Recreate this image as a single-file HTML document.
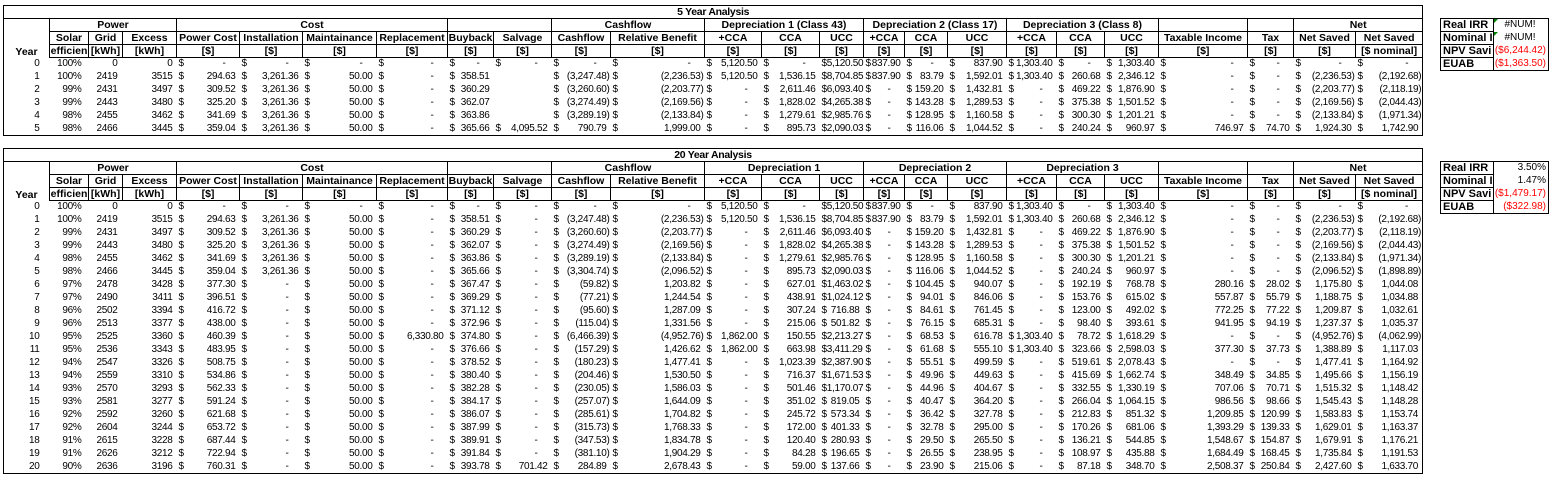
<!DOCTYPE html>
<html><head><meta charset="utf-8">
<style>
html,body{margin:0;padding:0;background:#fff;width:1554px;height:477px;overflow:hidden;position:relative}
table.t{position:absolute;left:3px;border-collapse:collapse;table-layout:fixed;width:1419px;font-family:"Liberation Sans",Arial,sans-serif;border:1px solid #000}
table.t tr{height:13px}
table.t td{padding:0;line-height:12px;white-space:nowrap;overflow:hidden;font-size:10px;letter-spacing:-0.3px;text-align:right}
table.t tr.h td{font-weight:bold;font-size:10.5px;letter-spacing:0;text-align:center;border:1px solid #000}
table.t tr.ti td{font-weight:bold;font-size:10.5px;text-align:center;border:1px solid #000}
table.t td.yr{border-top:none!important;border-bottom:none!important}
table.t tr.h3 td{border-bottom:1px solid #000}
.d{float:left;padding-left:2px}
.p{padding-right:4px}.n{padding-right:1px}.z{padding-right:14px}
table.b{position:absolute;left:1440px;border-collapse:collapse;table-layout:fixed;width:108px;font-family:"Liberation Sans",Arial,sans-serif;border:1px solid #000}
table.b tr{height:13px}
table.b td{padding:0;line-height:12px;font-size:10px;white-space:nowrap;overflow:hidden}
table.b td.l{font-weight:bold;font-size:11px;border:1px solid #000;padding-left:2px}
table.b td.v{text-align:right;padding-right:2px;position:relative}
.red{color:#f00}
.tri{position:absolute;left:0;top:0;width:0;height:0;border-top:4px solid #008000;border-right:4px solid transparent}
</style></head><body>
<table class="t" id="t5" style="top:5px"></table>
<table class="t" id="t20" style="top:148px"></table>

<table class="b" style="top:18px">
<colgroup><col style="width:53px"><col style="width:55px"></colgroup>
<tr><td class="l">Real IRR</td><td class="v" style="text-align:center"><span class="tri"></span>#NUM!</td></tr>
<tr><td class="l">Nominal I</td><td class="v" style="text-align:center"><span class="tri"></span>#NUM!</td></tr>
<tr><td class="l">NPV Savi</td><td class="v red">($6,244.42)</td></tr>
<tr><td class="l">EUAB</td><td class="v red">($1,363.50)</td></tr>
</table>
<table class="b" style="top:161px">
<colgroup><col style="width:53px"><col style="width:55px"></colgroup>
<tr><td class="l">Real IRR</td><td class="v">3.50%</td></tr>
<tr><td class="l">Nominal I</td><td class="v">1.47%</td></tr>
<tr><td class="l">NPV Savi</td><td class="v red">($1,479.17)</td></tr>
<tr><td class="l">EUAB</td><td class="v red">($322.98)</td></tr>
</table>

<script>
var colWidths=[46,39,34,54,63,63,74,71,46,58,59,94,57,58,44,41,43,59,50,48,54,89,46,62,67];
var colNames=["Solar","Grid","Excess","Power Cost","Installation","Maintainance","Replacement","Buyback","Salvage","Cashflow","Relative Benefit","+CCA","CCA","UCC","+CCA","CCA","UCC","+CCA","CCA","UCC","Taxable Income","Tax","Net Saved","Net Saved"];
var colUnits=["efficien","[kWh]","[kWh]","[$]","[$]","[$]","[$]","[$]","[$]","[$]","[$]","[$]","[$]","[$]","[$]","[$]","[$]","[$]","[$]","[$]","[$]","[$]","[$]","[$ nominal]"];
var groups5=[["Power",3],["Cost",4],["",2],["Cashflow",2],["Depreciation 1 (Class 43)",3],["Depreciation 2 (Class 17)",3],["Depreciation 3 (Class 8)",3],["",1],["",1],["Net",2]];
var groups20=[["Power",3],["Cost",4],["",2],["Cashflow",2],["Depreciation 1",3],["Depreciation 2",3],["Depreciation 3",3],["",1],["",1],["Net",2]];
var rowsCommon=[
"0;100%;0;0;-;-;-;-;-;-;-;-;5,120.50;-;5,120.50;837.90;-;837.90;1,303.40;-;1,303.40;-;-;-;-",
"1;100%;2419;3515;294.63;3,261.36;50.00;-;358.51;;(3,247.48);(2,236.53);5,120.50;1,536.15;8,704.85;837.90;83.79;1,592.01;1,303.40;260.68;2,346.12;-;-;(2,236.53);(2,192.68)",
"2;99%;2431;3497;309.52;3,261.36;50.00;-;360.29;;(3,260.60);(2,203.77);-;2,611.46;6,093.40;-;159.20;1,432.81;-;469.22;1,876.90;-;-;(2,203.77);(2,118.19)",
"3;99%;2443;3480;325.20;3,261.36;50.00;-;362.07;;(3,274.49);(2,169.56);-;1,828.02;4,265.38;-;143.28;1,289.53;-;375.38;1,501.52;-;-;(2,169.56);(2,044.43)",
"4;98%;2455;3462;341.69;3,261.36;50.00;-;363.86;;(3,289.19);(2,133.84);-;1,279.61;2,985.76;-;128.95;1,160.58;-;300.30;1,201.21;-;-;(2,133.84);(1,971.34)"];
var row5Five="5;98%;2466;3445;359.04;3,261.36;50.00;-;365.66;4,095.52;790.79;1,999.00;-;895.73;2,090.03;-;116.06;1,044.52;-;240.24;960.97;746.97;74.70;1,924.30;1,742.90";
var rowsTwentyLate=[
"5;98%;2466;3445;359.04;3,261.36;50.00;-;365.66;-;(3,304.74);(2,096.52);-;895.73;2,090.03;-;116.06;1,044.52;-;240.24;960.97;-;-;(2,096.52);(1,898.89)",
"6;97%;2478;3428;377.30;-;50.00;-;367.47;-;(59.82);1,203.82;-;627.01;1,463.02;-;104.45;940.07;-;192.19;768.78;280.16;28.02;1,175.80;1,044.08",
"7;97%;2490;3411;396.51;-;50.00;-;369.29;-;(77.21);1,244.54;-;438.91;1,024.12;-;94.01;846.06;-;153.76;615.02;557.87;55.79;1,188.75;1,034.88",
"8;96%;2502;3394;416.72;-;50.00;-;371.12;-;(95.60);1,287.09;-;307.24;716.88;-;84.61;761.45;-;123.00;492.02;772.25;77.22;1,209.87;1,032.61",
"9;96%;2513;3377;438.00;-;50.00;-;372.96;-;(115.04);1,331.56;-;215.06;501.82;-;76.15;685.31;-;98.40;393.61;941.95;94.19;1,237.37;1,035.37",
"10;95%;2525;3360;460.39;-;50.00;6,330.80;374.80;-;(6,466.39);(4,952.76);1,862.00;150.55;2,213.27;-;68.53;616.78;1,303.40;78.72;1,618.29;-;-;(4,952.76);(4,062.99)",
"11;95%;2536;3343;483.95;-;50.00;-;376.66;-;(157.29);1,426.62;1,862.00;663.98;3,411.29;-;61.68;555.10;1,303.40;323.66;2,598.03;377.30;37.73;1,388.89;1,117.03",
"12;94%;2547;3326;508.75;-;50.00;-;378.52;-;(180.23);1,477.41;-;1,023.39;2,387.90;-;55.51;499.59;-;519.61;2,078.43;-;-;1,477.41;1,164.92",
"13;94%;2559;3310;534.86;-;50.00;-;380.40;-;(204.46);1,530.50;-;716.37;1,671.53;-;49.96;449.63;-;415.69;1,662.74;348.49;34.85;1,495.66;1,156.19",
"14;93%;2570;3293;562.33;-;50.00;-;382.28;-;(230.05);1,586.03;-;501.46;1,170.07;-;44.96;404.67;-;332.55;1,330.19;707.06;70.71;1,515.32;1,148.42",
"15;93%;2581;3277;591.24;-;50.00;-;384.17;-;(257.07);1,644.09;-;351.02;819.05;-;40.47;364.20;-;266.04;1,064.15;986.56;98.66;1,545.43;1,148.28",
"16;92%;2592;3260;621.68;-;50.00;-;386.07;-;(285.61);1,704.82;-;245.72;573.34;-;36.42;327.78;-;212.83;851.32;1,209.85;120.99;1,583.83;1,153.74",
"17;92%;2604;3244;653.72;-;50.00;-;387.99;-;(315.73);1,768.33;-;172.00;401.33;-;32.78;295.00;-;170.26;681.06;1,393.29;139.33;1,629.01;1,163.37",
"18;91%;2615;3228;687.44;-;50.00;-;389.91;-;(347.53);1,834.78;-;120.40;280.93;-;29.50;265.50;-;136.21;544.85;1,548.67;154.87;1,679.91;1,176.21",
"19;91%;2626;3212;722.94;-;50.00;-;391.84;-;(381.10);1,904.29;-;84.28;196.65;-;26.55;238.95;-;108.97;435.88;1,684.49;168.45;1,735.84;1,191.53",
"20;90%;2636;3196;760.31;-;50.00;-;393.78;701.42;284.89;2,678.43;-;59.00;137.66;-;23.90;215.06;-;87.18;348.70;2,508.37;250.84;2,427.60;1,633.70"];

function build(id,title,groups,rows,salvageFill){
  var t=document.getElementById(id);
  var cg=document.createElement('colgroup');
  colWidths.forEach(function(w){var c=document.createElement('col');c.style.width=w+'px';cg.appendChild(c);});
  t.appendChild(cg);
  var tr=t.insertRow();tr.className='ti';
  var td=tr.insertCell();td.colSpan=25;td.textContent=title;
  
  
  tr=t.insertRow();tr.className='h';
  var y=tr.insertCell();y.className='yr';y.rowSpan=3;y.textContent='Year';y.style.verticalAlign='bottom';
  
  
  groups.forEach(function(g){var c=tr.insertCell();c.colSpan=g[1];c.textContent=g[0];
    
    });
  tr=t.insertRow();tr.className='h';
  colNames.forEach(function(n){var c=tr.insertCell();c.textContent=n;
    
    });
  tr=t.insertRow();tr.className='h h3';
  colUnits.forEach(function(n){var c=tr.insertCell();c.textContent=n;
    
    });
  rows.forEach(function(r){
    var v=r.split(';');
    var row=t.insertRow();
    
    
    v.forEach(function(val,ci){
      var c=row.insertCell();
      
      
      if(ci===0){c.style.paddingRight='10px';c.textContent=val;return;}
      if(ci===1){c.style.paddingRight='7px';c.textContent=val;return;}
      if(ci===2){c.style.paddingRight='5px';c.textContent=val;return;}
      if(ci===3){c.style.paddingRight='4px';c.textContent=val;return;}
      if(val===''){ if(ci===9&&salvageFill)val='-'; else return;}
      var cls=val==='-'?'z':(val.charAt(0)==='('?'n':'p');
      c.innerHTML='<span class="d">$</span><span class="'+cls+'">'+val+'</span>';
    });
  });
}
build('t5','5 Year Analysis',groups5,rowsCommon.concat([row5Five]),false);
build('t20','20 Year Analysis',groups20,rowsCommon.concat(rowsTwentyLate),true);
</script>
</body></html>
